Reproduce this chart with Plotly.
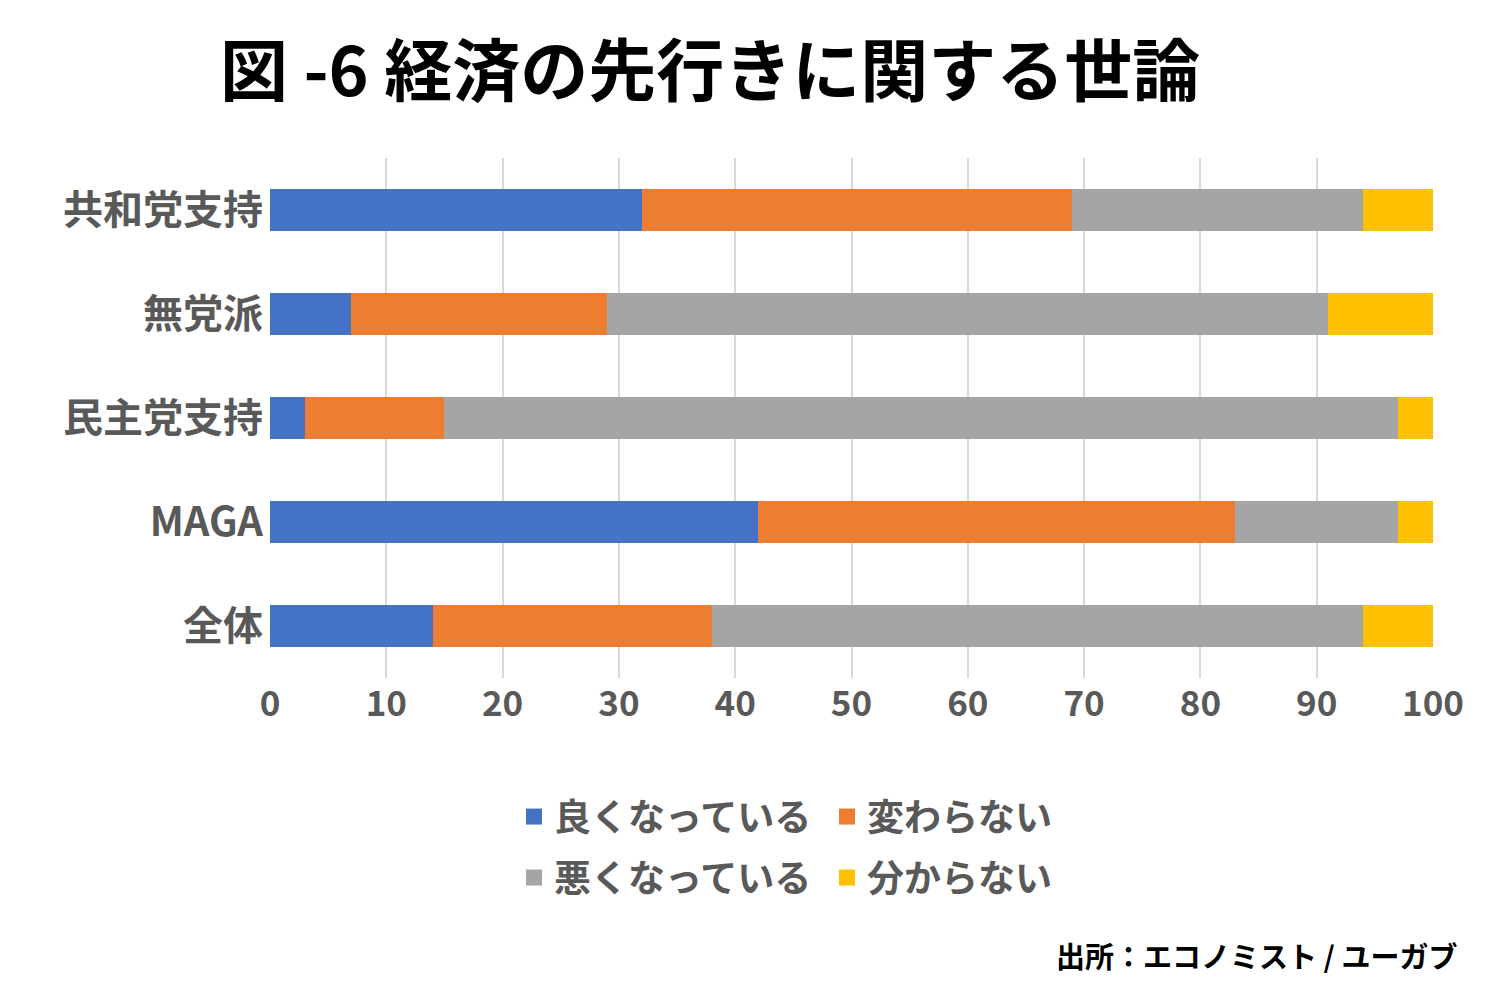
"""図-6 経済の先行きに関する世論 — 横積み上げ棒グラフ"""

import plotly.graph_objects as go

CATEGORIES = ['共和党支持', '無党派', '民主党支持', 'MAGA', '全体']

BETTER = [32, 7, 3, 42, 14]
SAME = [37, 22, 12, 41, 24]
WORSE = [25, 62, 82, 14, 56]
UNKNOWN = [6, 9, 3, 3, 6]

SERIES = [
    ('良くなっている', BETTER, '#4472C4', 'legend'),
    ('変わらない', SAME, '#ED7D31', 'legend'),
    ('悪くなっている', WORSE, '#A5A5A5', 'legend2'),
    ('分からない', UNKNOWN, '#FFC000', 'legend2'),
]

X_TICKS = [0, 10, 20, 30, 40, 50, 60, 70, 80, 90, 100]

FONT = 'Noto Sans CJK JP'
GRAY_TEXT = '#595959'

# page offset of the html body (8px) is taken off the pixel positions below
L, R, T, B = 262, 75, 150, 330
PW, PH = 1500 - L - R, 1000 - T - B

fig = go.Figure()

for name, values, color, legend in SERIES:
    fig.add_trace(go.Bar(
        y=CATEGORIES,
        x=values,
        orientation='h',
        name=name,
        marker=dict(color=color, line=dict(width=0)),
        width=0.4,
        showlegend=False,
        hoverinfo='x+name',
    ))
    # legend-only marker (bigger square than the default bar symbol)
    fig.add_trace(go.Scatter(
        x=[None], y=[None],
        mode='markers',
        name=name,
        marker=dict(symbol='square', size=16, color=color),
        legend=legend,
        showlegend=True,
    ))

legend_common = dict(
    orientation='h',
    traceorder='normal',
    xanchor='left',
    yanchor='middle',
    font=dict(family=FONT, size=37, color=GRAY_TEXT, weight='bold'),
    entrywidth=268,
    itemwidth=30,
    bgcolor='rgba(0,0,0,0)',
)

fig.update_layout(
    barmode='stack',
    title=dict(
        text='図 -6 経済の先行きに関する世論',
        x=212 / 1500, xanchor='left',
        y=1 - 64 / 1000, yanchor='middle',
        font=dict(family=FONT, size=68, color='#000000', weight='bold'),
    ),
    xaxis=dict(
        range=[0, 100],
        tickvals=X_TICKS,
        showgrid=True,
        gridcolor='#D9D9D9',
        gridwidth=1.5,
        zeroline=False,
        showline=False,
        ticks='',
        ticklabelstandoff=2,
        tickfont=dict(family=FONT, size=35, color=GRAY_TEXT, weight='bold'),
        fixedrange=True,
    ),
    yaxis=dict(
        categoryorder='array',
        categoryarray=CATEGORIES,
        autorange='reversed',
        showgrid=False,
        showline=False,
        ticks='',
        ticklabelstandoff=6,
        tickfont=dict(family=FONT, size=40, color=GRAY_TEXT, weight='bold'),
    ),
    legend=dict(x=(506 - L) / PW, y=(T + PH - 809) / PH, **legend_common),
    legend2=dict(x=(506 - L) / PW, y=(T + PH - 870) / PH, **legend_common),
    annotations=[dict(
        text='出所：エコノミスト / ユーガブ',
        xref='paper', yref='paper',
        x=(1451 - L) / PW, y=(T + PH - 947) / PH,
        xanchor='right', yanchor='middle',
        showarrow=False,
        font=dict(family=FONT, size=29, color='#000000', weight='bold'),
    )],
    plot_bgcolor='white',
    paper_bgcolor='white',
    margin=dict(l=L, r=R, t=T, b=B),
    width=1500,
    height=1000,
    font=dict(family=FONT),
)

fig.write_html('out.html')
